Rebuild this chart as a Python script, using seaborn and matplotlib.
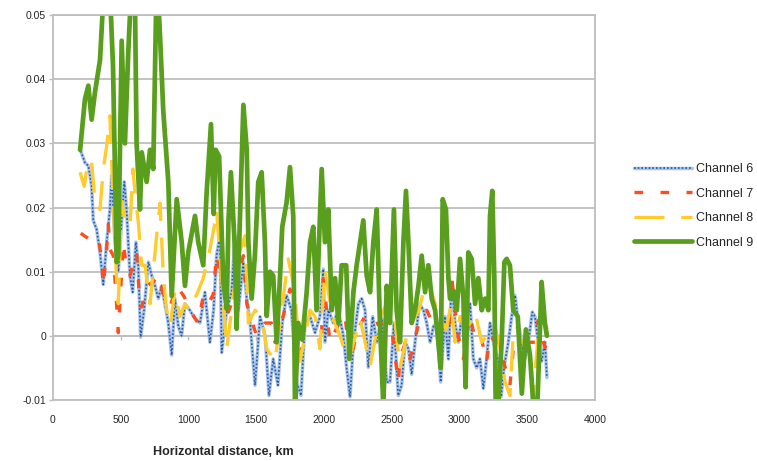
import matplotlib.pyplot as plt
import matplotlib.ticker as mticker
from matplotlib.legend_handler import HandlerTuple
import pandas as pd
import seaborn as sns

sns.set_style('white')
plt.rcParams['font.family'] = ['Liberation Sans Narrow', 'Liberation Sans', 'DejaVu Sans']

# values, y in units of 0.001
ch6_km = [205, 236, 261, 285, 297, 322, 347, 371, 396, 420,
          433, 457, 482, 507, 526, 543, 568, 588, 612, 629,
          647, 672, 704, 728, 753, 777, 802, 826, 851, 876,
          900, 925, 949, 974, 1010, 1047, 1085, 1121, 1158, 1185,
          1207, 1232, 1245, 1282, 1318, 1343, 1368, 1405, 1430, 1455,
          1491, 1528, 1565, 1594, 1625, 1660, 1692, 1724, 1760, 1797,
          1830, 1860, 1897, 1934, 1970, 1995, 2007, 2032, 2069, 2106,
          2143, 2167, 2192, 2217, 2254, 2278, 2303, 2327, 2359, 2389,
          2426, 2463, 2487, 2516, 2548, 2573, 2598, 2623, 2647, 2672,
          2704, 2734, 2758, 2783, 2808, 2832, 2861, 2893, 2918, 2942,
          2967, 2992, 3016, 3041, 3078, 3102, 3127, 3151, 3176, 3200,
          3225, 3250, 3287, 3307, 3331, 3360, 3385, 3410, 3434, 3458,
          3483, 3508, 3537, 3557, 3581, 3606, 3631, 3645]
ch6_val = [28.8, 27, 26.5, 23.4, 18, 16.6, 13, 8, 14.6, 19.7,
           25, 14.6, 10, 18, 24, 19.7, 9.4, 6.8, 14.6, 11,
           -0.2, 4, 11.5, 9.4, 7.8, 5.8, 7.8, 5, 2, -3,
           5.8, 1.5, 0, 5, 4, 2.7, 2, 6.8, -1, 4,
           12.5, 15.6, -2.6, 4, 6.8, 15.6, 4, 11.5, 5.8, 2,
           -7.7, 3, 0, -9.3, -3.6, -7.7, 2, 6.3, 4, -7.2,
           -9.3, 2, 3, 0.5, 3, 10.4, -1, 4, 2, 4,
           0, -5, -9.5, -1.1, 5, 5.8, 4, -4.9, 3, -1,
           2.7, -7.2, -7.2, 2, -9.3, -7.7, -1, -2, -6, -1,
           5, 4, 2, -1, 1.5, 2, -7.2, 3, -3.6, 8.4,
           2, -1, 3, 0, 5, -3.6, -5, -3.6, -8.2, -3.6,
           2, -1, -4, -9.5, -4.6, -1, 3, 6.3, 2, -1,
           -3.6, -1, 3.7, 3, -1, -4, -1, -6.5]

ch7_km = [205, 230, 260, 300, 335, 359, 371, 396, 408, 420,
          445, 470, 482, 519, 543, 568, 617, 642, 655, 691,
          740, 777, 814, 851, 863, 913, 962, 998, 1035, 1070,
          1110, 1146, 1183, 1207, 1240, 1269, 1294, 1330, 1367, 1405,
          1430, 1478, 1503, 1564, 1613, 1638, 1680, 1712, 1749, 1786,
          1822, 1860, 1909, 1950, 1983, 1995, 2044, 2100, 2155, 2192,
          2250, 2300, 2340, 2377, 2400, 2450, 2500, 2548, 2561, 2600,
          2635, 2700, 2758, 2800, 2850, 2893, 2918, 2942, 2990, 3029,
          3077, 3110, 3151, 3200, 3225, 3270, 3323, 3348, 3372, 3397,
          3421, 3470, 3520, 3557, 3581, 3606, 3631, 3645]
ch7_val = [16, 15.6, 15.2, 15.4, 15.4, 11.8, 7.8, 13.5, 17.4, 13.5,
           12.5, 4.7, 0.5, 14.6, 10.4, 9.4, 13, 4.7, 4.5, 7.8,
           8.4, 9.5, 6.5, 5, 4.5, 7.8, 6.3, 5, 3.2, 2,
           6.3, 5, 6.5, 12.7, 9, 6.8, 3.7, 5.8, 9.4, 12.5,
           5, 1.6, 0, 2, 2, -1, 1.5, 4.2, 7.3, 1.5,
           -3.6, 2, 2, 1.5, 0.6, 8.9, -1, 1.5, 3.2, -4,
           1, 3, 3.2, 3, 1.7, 2, 1, -7.2, -3.6, -1,
           -3.6, 2, 4, 2, 0, -0.5, 0, 9.2, 0, -3.6,
           3.1, 0, 0.6, -4, 0, -1, -4, -5.6, -7.7, -2,
           -2, -1, -1, -1, 2.4, 0, -1.8, -1]

ch8_km = [200, 230, 261, 285, 310, 347, 371, 396, 420, 433,
          445, 470, 482, 507, 531, 568, 590, 605, 630, 655,
          679, 716, 765, 790, 814, 839, 863, 900, 937, 974,
          1010, 1047, 1072, 1109, 1158, 1195, 1207, 1245, 1282, 1306,
          1367, 1417, 1442, 1491, 1540, 1577, 1638, 1687, 1736, 1786,
          1822, 1860, 1897, 1934, 1970, 2007, 2060, 2118, 2180, 2267,
          2340, 2400, 2475, 2520, 2561, 2620, 2700, 2758, 2795, 2850,
          2900, 2940, 2967, 3004, 3040, 3078, 3115, 3164, 3200, 3262,
          3300, 3336, 3372, 3397, 3421, 3460, 3508, 3544, 3581, 3606,
          3631, 3645]
ch8_val = [25.5, 23.3, 27.5, 27, 21, 19.7, 26, 29.6, 34.3, 27,
           21, 8.4, 5, 21, 18, 17, 26, 22.4, 17.6, 11,
           11, 5, 15.6, 20.7, 9.4, 4, 1.5, 7, 3, 5,
           4, 5.8, 7, 9, 13.5, 17.6, 19.7, 9, -2, 2,
           12.5, 15.6, 2, 4, 3, -2, -4, 4, 12, 6.8,
           -4, 0, 4, 3, -2, 10.4, 3, 0, -4, 2.7,
           -4.7, 2, 5.8, 3, -5, 1, 4, 8.9, 6.8, 3,
           1, 5, -1, 3, 1, 2, 3.7, -1, 0, 1.5,
           -2, -7.2, -9.3, 0.5, 1.5, -1, -2, -8.8, 0, 0.6,
           2, 1]

ch9_km = [200, 236, 261, 285, 310, 347, 370, 395, 420, 443,
          470, 482, 507, 531, 555, 575, 590, 605, 617, 642,
          655, 691, 716, 740, 765, 778, 790, 814, 851, 876,
          913, 950, 974, 998, 1048, 1072, 1109, 1134, 1166, 1186,
          1200, 1226, 1257, 1282, 1295, 1313, 1340, 1355, 1380, 1405,
          1430, 1442, 1466, 1490, 1515, 1540, 1564, 1577, 1601, 1625,
          1651, 1675, 1692, 1724, 1749, 1773, 1786, 1810, 1840, 1872,
          1897, 1921, 1945, 1983, 2007, 2032, 2057, 2082, 2106, 2130,
          2164, 2187, 2217, 2241, 2266, 2290, 2315, 2340, 2364, 2389,
          2413, 2438, 2463, 2487, 2516, 2536, 2561, 2586, 2605, 2623,
          2647, 2672, 2697, 2721, 2746, 2770, 2795, 2820, 2844, 2861,
          2876, 2900, 2918, 2930, 2955, 2980, 3004, 3029, 3045, 3065,
          3090, 3115, 3139, 3164, 3188, 3213, 3225, 3242, 3257, 3267,
          3287, 3311, 3331, 3348, 3372, 3397, 3430, 3460, 3490, 3520,
          3544, 3575, 3606, 3630, 3645]
ch9_val = [29, 36.9, 39, 33.7, 38, 43, 52, 55, 54, 42,
           11.5, 12.5, 46, 30, 44, 53, 58, 52, 30, 19.7,
           28.6, 24, 29, 26, 56, 52, 46.7, 35, 24, 6.2,
           21.3, 14.6, 7.8, 13, 18.7, 14.6, 11, 22.4, 33, 19,
           29, 28, 8.4, 4.2, 18, 25.5, 14.6, 1.1, 18.5, 36,
           29, 14.6, 5.8, 12.5, 24, 25.5, 14.6, 3.1, 10, 9.4,
           -1, 9, 17, 20.8, 26.3, 18.7, -11, 2, -0.6, 6.8,
           14.6, 17, 4, 26, 14.6, 19.7, 4, 9, 2, 11,
           11, -3.6, 6.8, 11, 14.6, 18, 9.4, 6.8, 14.6, 19.7,
           2, -11, 7.8, 2, 19.7, 4, -1, 14.6, 22.6, 14.6,
           2, 4, 7.8, 12.5, 6.8, 11, 5.8, 4, -1, -5,
           21.3, 19.7, 9, 5.8, 7, 4, 12, 5.8, -8, 13,
           12, 5, 9, 4, 5.8, 4, 18.7, 22.6, 9, -10.5,
           -10.5, -1, 11.5, 12, 11, 4, 3, -9, 1, -3,
           -10.5, -10.5, 8.4, 2, 0]

labels = ['Channel 6', 'Channel 7', 'Channel 8', 'Channel 9']
x_ticks = list(range(0, 4001, 500))
y_ticks = [-0.01, 0, 0.01, 0.02, 0.03, 0.04, 0.05]

grid_color = '#BEBEBE'


def frame(km, val):
    return pd.DataFrame({'km': km, 'value': [v / 1000 for v in val]})


fig = plt.figure(figsize=(7.57, 4.61), dpi=100)
ax = fig.add_axes([0.070, 0.1323, 0.716, 0.835])

# Channel 6: light blue band with dark blue dots on top
sns.lineplot(data=frame(ch6_km, ch6_val), x='km', y='value', ax=ax,
             estimator=None, color='#A9C3E6', linewidth=2.5)
h6a = ax.lines[-1]
sns.lineplot(data=frame(ch6_km, ch6_val), x='km', y='value', ax=ax,
             estimator=None, color='#2457A6', linewidth=1.2,
             linestyle=(0, (1, 1.2)))
h6b = ax.lines[-1]

sns.lineplot(data=frame(ch7_km, ch7_val), x='km', y='value', ax=ax,
             estimator=None, color='#FF4D1F', linewidth=2.4,
             linestyle=(0, (2.6, 5.2)))
h7 = ax.lines[-1]

sns.lineplot(data=frame(ch8_km, ch8_val), x='km', y='value', ax=ax,
             estimator=None, color='#FFCC2E', linewidth=2.4,
             linestyle=(0, (9, 5)))
h8 = ax.lines[-1]

sns.lineplot(data=frame(ch9_km, ch9_val), x='km', y='value', ax=ax,
             estimator=None, color='#5A9E1E', linewidth=3.4)
h9 = ax.lines[-1]

ax.set_xlim(0, 4000)
ax.set_ylim(-0.01, 0.05)
ax.set_xticks(x_ticks)
ax.set_yticks(y_ticks)
ax.yaxis.set_major_formatter(mticker.FuncFormatter(lambda v, p: f'{round(v, 3):g}'))
ax.set_xlabel('')
ax.set_ylabel('')

ax.grid(axis='y', color=grid_color, linewidth=1.3)
ax.grid(axis='x', visible=False)
for side in ['left', 'right', 'top', 'bottom']:
    ax.spines[side].set_visible(True)
    ax.spines[side].set_color(grid_color)
    ax.spines[side].set_linewidth(1.3)

ax.tick_params(axis='y', direction='out', length=3, width=1, color=grid_color,
               labelsize=7.5, pad=2, left=True)
ax.tick_params(axis='x', length=0, labelsize=7.5, pad=11)

# horizontal axis crossing at zero, with its small ticks
sec = ax.secondary_xaxis(1 / 6)
sec.set_xticks(x_ticks)
sec.tick_params(axis='x', direction='out', length=3, width=1, color=grid_color,
                labelbottom=False, labeltop=False)
sec.spines['bottom'].set_color(grid_color)
sec.spines['bottom'].set_linewidth(1.3)

fig.text(0.295, 1 - 452 / 461, 'Horizontal distance, km', ha='center', va='center',
         fontsize=9, fontweight='bold')

fig.legend([(h6a, h6b), h7, h8, h9], labels,
           handler_map={tuple: HandlerTuple(ndivide=1, pad=0)},
           loc='center left', bbox_to_anchor=(0.823, 0.553),
           frameon=False, fontsize=9, handlelength=4.6, handletextpad=0.3,
           labelspacing=1.0)

fig.savefig('out.png', dpi=100)
